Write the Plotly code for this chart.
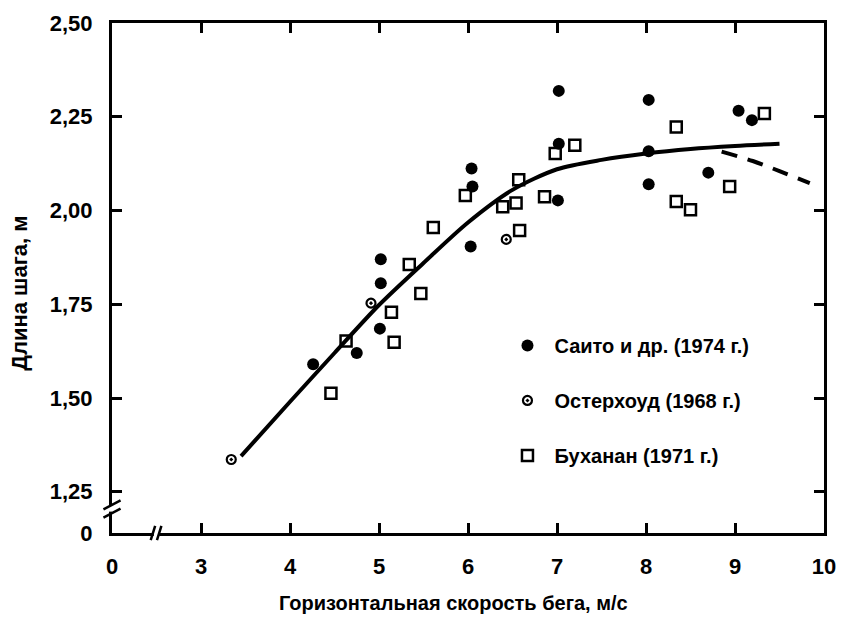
import plotly.graph_objects as go

# Saito et al. (1974) - filled circles
saito_speed = [4.26, 4.75, 5.01, 5.02, 5.02, 6.03, 6.05, 6.04, 7.01, 7.02, 7.02,
               8.03, 8.03, 8.03, 8.70, 9.04, 9.19]
saito_stride = [1.590, 1.620, 1.685, 1.806, 1.870, 1.904, 2.064, 2.112, 2.027, 2.178, 2.319,
                2.070, 2.158, 2.295, 2.101, 2.266, 2.241]

# Osterhoud (1968) - small open circles with dot
ost_speed = [3.34, 4.91, 6.43]
ost_stride = [1.336, 1.753, 1.923]

# Buchanan (1971) - open squares
buch_speed = [4.46, 4.63, 5.17, 5.14, 5.47, 5.34, 5.61, 5.97, 6.39, 6.54, 6.58, 6.57,
              6.86, 6.98, 7.20, 8.34, 8.34, 8.50, 8.94, 9.33]
buch_stride = [1.513, 1.652, 1.649, 1.729, 1.779, 1.856, 1.955, 2.040, 2.010, 2.020, 1.947, 2.082,
               2.037, 2.152, 2.174, 2.223, 2.024, 2.002, 2.064, 2.259]

# Fitted trend (solid) and its extrapolated decline (dashed)
trend_speed = [3.45, 4.0, 4.5, 5.0, 5.5, 6.0, 6.5, 7.0, 7.5, 8.0, 8.5, 9.0, 9.5]
trend_stride = [1.345, 1.490, 1.620, 1.748, 1.860, 1.968, 2.055, 2.110, 2.135, 2.152, 2.164, 2.172, 2.178]
decline_speed = [8.85, 9.2, 9.5, 9.84]
decline_stride = [2.157, 2.132, 2.105, 2.073]

# Axis ticks; the lowest tick on each axis stands for zero across a break
x_tickvals = [2, 3, 4, 5, 6, 7, 8, 9, 10]
x_ticktext = ["0", "3", "4", "5", "6", "7", "8", "9", "10"]
y_tickvals = [1.14, 1.25, 1.50, 1.75, 2.00, 2.25, 2.50]
y_ticktext = ["0", "1,25", "1,50", "1,75", "2,00", "2,25", "2,50"]

FONT = "Liberation Sans, Arial, sans-serif"
X_MIN, X_MAX = 2.0, 10.0
Y_MIN, Y_MAX = 1.14, 2.50

fig = go.Figure()

fig.add_trace(go.Scatter(
    x=trend_speed, y=trend_stride, mode="lines", showlegend=False,
    line=dict(color="black", width=4, shape="spline", smoothing=0.8),
    hoverinfo="skip"))
fig.add_trace(go.Scatter(
    x=decline_speed, y=decline_stride, mode="lines", showlegend=False,
    line=dict(color="black", width=4, dash="16px,11px", shape="spline"),
    hoverinfo="skip"))

fig.add_trace(go.Scatter(
    x=saito_speed, y=saito_stride, mode="markers", name="Саито и др. (1974 г.)",
    legendgroup="a",
    marker=dict(symbol="circle", size=12, color="black")))
fig.add_trace(go.Scatter(
    x=ost_speed, y=ost_stride, mode="markers", name="Остерхоуд (1968 г.)",
    legendgroup="b",
    marker=dict(symbol="circle-open-dot", size=9, color="black", line=dict(width=2.2))))
fig.add_trace(go.Scatter(
    x=buch_speed, y=buch_stride, mode="markers", name="Буханан (1971 г.)",
    legendgroup="c",
    marker=dict(symbol="square-open", size=11, color="black", line=dict(width=2.5))))

axis_common = dict(
    showgrid=False, zeroline=False, showline=True, linecolor="black", linewidth=3,
    mirror="ticks", ticks="inside", ticklen=10, tickwidth=2.5, tickcolor="black",
    tickfont=dict(family=FONT, size=22, color="black", weight="bold"),
    ticklabelstandoff=12,
)

fig.update_xaxes(range=[X_MIN, X_MAX], tickvals=x_tickvals, ticktext=x_ticktext, **axis_common)
fig.update_yaxes(range=[Y_MIN, Y_MAX], tickvals=y_tickvals, ticktext=y_ticktext, **axis_common)

# Axis break marks: a white gap bounded by two slanted strokes
shapes = []
xb = 2.5
shapes.append(dict(type="rect", xref="x", yref="paper", x0=xb - 0.03, x1=xb + 0.03,
                   y0=-0.012, y1=0.012, fillcolor="white", line=dict(width=0), layer="above"))
for dx in (-0.04, 0.03):
    shapes.append(dict(type="line", xref="x", yref="paper",
                       x0=xb + dx - 0.025, y0=-0.014, x1=xb + dx + 0.025, y1=0.014,
                       line=dict(color="black", width=2.5), layer="above"))
yb = 1.205
shapes.append(dict(type="rect", xref="paper", yref="y", x0=-0.012, x1=0.012,
                   y0=yb - 0.008, y1=yb + 0.008, fillcolor="white", line=dict(width=0), layer="above"))
for dy in (-0.012, 0.01):
    shapes.append(dict(type="line", xref="paper", yref="y",
                       x0=-0.012, y0=yb + dy - 0.012, x1=0.012, y1=yb + dy + 0.012,
                       line=dict(color="black", width=2.5), layer="above"))

fig.update_layout(
    width=847, height=621,
    margin=dict(l=112, r=11, t=22, b=88),
    paper_bgcolor="white", plot_bgcolor="white",
    font=dict(family=FONT, color="black"),
    shapes=shapes,
    showlegend=True,
    legend=dict(
        x=0.5456, y=0.406, xanchor="left", yanchor="top",
        font=dict(family=FONT, size=20, color="black", weight="bold"),
        tracegroupgap=26, itemwidth=44, bgcolor="rgba(0,0,0,0)",
    ),
    annotations=[
        dict(text="Горизонтальная скорость бега, м/с", xref="paper", yref="paper",
             x=0.479, y=-0.137, xanchor="center", yanchor="middle", showarrow=False,
             font=dict(family=FONT, size=20, color="black", weight="bold")),
        dict(text="Длина шага, м", xref="paper", yref="paper",
             x=-0.130, y=0.47, xanchor="center", yanchor="middle", showarrow=False,
             textangle=-90, font=dict(family=FONT, size=22, color="black", weight="bold")),
    ],
)

fig.write_html("out.html")
